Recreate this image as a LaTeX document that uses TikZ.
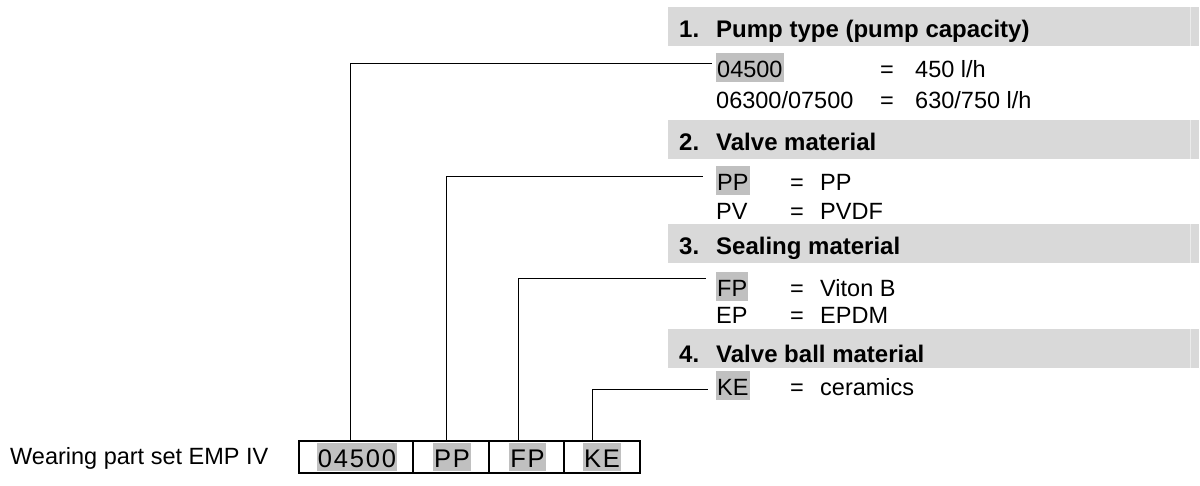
\documentclass[tikz,border=0pt]{standalone}
\usepackage{fontspec}
\setmainfont{Liberation Sans}
\definecolor{barfill}{HTML}{D9D9D9}
\definecolor{barline}{HTML}{EBEBEB}
\definecolor{hlfill}{HTML}{C0C0C0}
\begin{document}
\begin{tikzpicture}[x=1pt,y=-1pt,
  txt/.style={font=\fontsize{23.5}{28}\selectfont, inner sep=0pt, anchor=base west},
  hd/.style={font=\fontsize{24}{28}\selectfont\bfseries, inner sep=0pt, anchor=base west},
  hl/.style={fill=hlfill, inner xsep=1pt, inner ysep=0pt, text height=24pt, text depth=5pt},
  seg/.style={draw, line width=1.6pt, minimum height=32pt, inner sep=0pt},
  boxtxt/.style={font=\fontsize{25.5}{28}\selectfont\addfontfeature{LetterSpace=7}, fill=hlfill, inner xsep=1pt, inner ysep=0pt, text height=24pt, text depth=4pt, anchor=base},
  conn/.style={line width=1pt},
  bar/.style={fill=barfill}]
\useasboundingbox (0,0) rectangle (1200,485);

% header bars
\foreach \ya/\yb in {7/46,120/159,224/263,329/368}{
  \fill[bar] (668,\ya) rectangle (1199,\yb);
  \draw[barline, line width=1pt] (1190.5,\ya) -- (1190.5,\yb);
}

% group 1
\node[hd] (h1n) at (679,37) {1.};
\node[hd] (h1) at (716,37) {Pump type (pump capacity)};
\node[txt,hl] (c1) at (716,77) {04500};
\node[txt] (q1) at (880,77) {=};
\node[txt] (v1) at (915,77) {450 l/h};
\node[txt] (c1b) at (716,108) {06300/07500};
\node[txt] (q1b) at (880,108) {=};
\node[txt] (v1b) at (915,108) {630/750 l/h};

% group 2
\node[hd] (h2n) at (679,150) {2.};
\node[hd] (h2) at (716,150) {Valve material};
\node[txt,hl] (c2) at (716,190) {PP};
\node[txt] (q2) at (790,190) {=};
\node[txt] (v2) at (820,190) {PP};
\node[txt] (c2b) at (716,219) {PV};
\node[txt] (q2b) at (790,219) {=};
\node[txt] (v2b) at (820,219) {PVDF};

% group 3
\node[hd] (h3n) at (679,254) {3.};
\node[hd] (h3) at (716,254) {Sealing material};
\node[txt,hl] (c3) at (716,296) {FP};
\node[txt] (q3) at (790,296) {=};
\node[txt] (v3) at (820,296) {Viton B};
\node[txt] (c3b) at (716,323) {EP};
\node[txt] (q3b) at (790,323) {=};
\node[txt] (v3b) at (820,323) {EPDM};

% group 4
\node[hd] (h4n) at (679,362) {4.};
\node[hd] (h4) at (716,362) {Valve ball material};
\node[txt,hl] (c4) at (716,395) {KE};
\node[txt] (q4) at (790,395) {=};
\node[txt] (v4) at (820,395) {ceramics};

% label and code box
\node[txt] (lbl) at (10,464) {Wearing part set EMP IV};
\node[seg, minimum width=114pt] (s1) at (356,457) {};
\node[seg, minimum width=76pt] (s2) at (451,457) {};
\node[seg, minimum width=75pt] (s3) at (526.5,457) {};
\node[seg, minimum width=76pt] (s4) at (602,457) {};
\node[boxtxt] (t1) at (357,467) {04500};
\node[boxtxt] (t2) at (452,467) {PP};
\node[boxtxt] (t3) at (527.5,467) {FP};
\node[boxtxt] (t4) at (602,467) {KE};

% connectors
\coordinate (e1) at (712,63);
\coordinate (e2) at (703,176);
\coordinate (e3) at (706,278);
\coordinate (e4) at (708,389);
\draw[conn] ([xshift=-6pt]s1.north) |- (e1);
\draw[conn] ([xshift=-5pt]s2.north) |- (e2);
\draw[conn] ([xshift=-8.5pt]s3.north) |- (e3);
\draw[conn] ([xshift=-10pt]s4.north) |- (e4);
\end{tikzpicture}
\end{document}
